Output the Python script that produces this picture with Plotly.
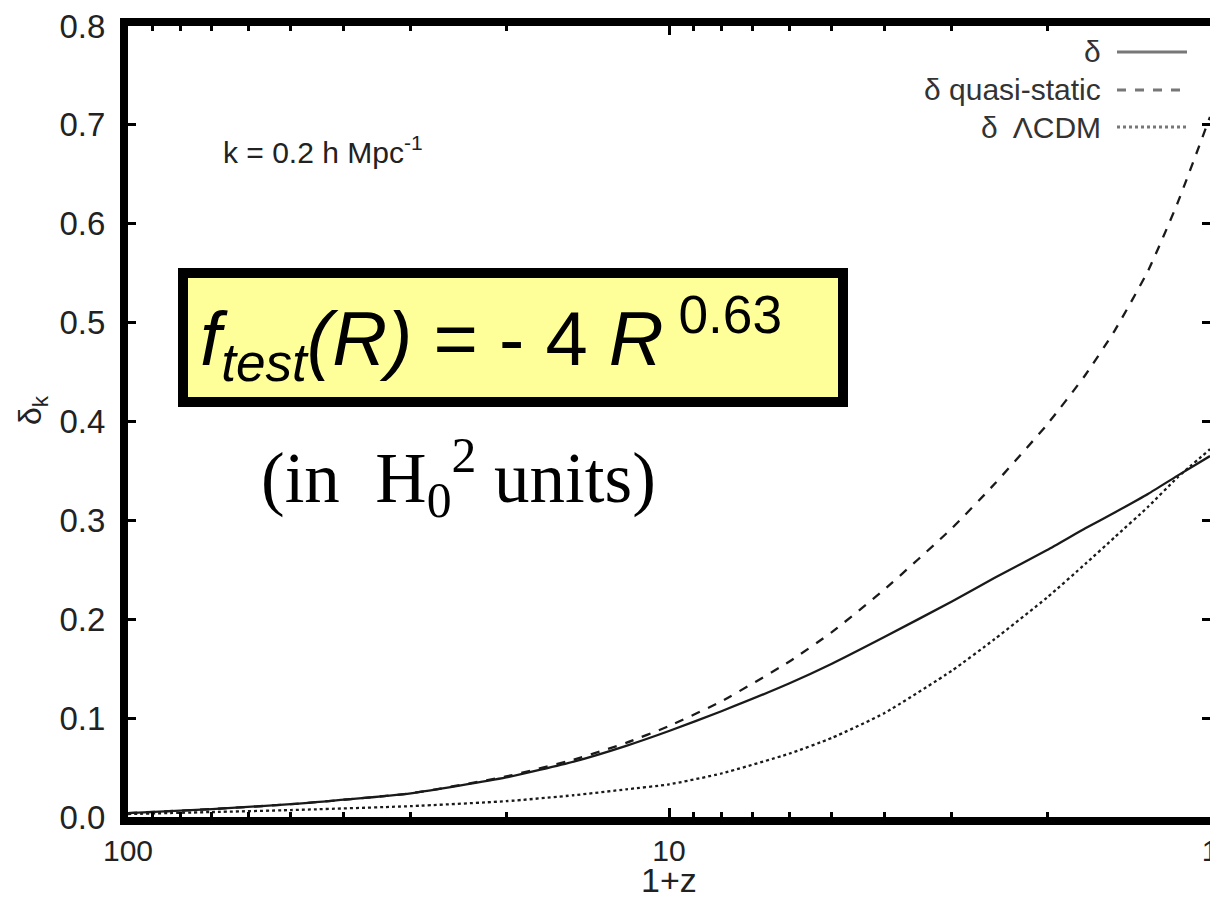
import plotly.graph_objects as go

# ---------------- data ----------------
one_plus_z = [100, 70, 50, 30, 20, 15, 12, 10, 8, 6, 5, 4, 3, 2.5, 2, 1.7, 1.5, 1.3, 1.15, 1]
delta_full = [0.004, 0.008, 0.013, 0.024, 0.040, 0.056, 0.072, 0.087, 0.107, 0.135, 0.155,
              0.182, 0.218, 0.242, 0.270, 0.292, 0.308, 0.327, 0.345, 0.365]
delta_qs = [0.004, 0.008, 0.013, 0.024, 0.041, 0.058, 0.075, 0.092, 0.117, 0.157, 0.187,
            0.230, 0.292, 0.337, 0.397, 0.447, 0.492, 0.553, 0.620, 0.708]
delta_lcdm = [0.003, 0.005, 0.007, 0.011, 0.016, 0.022, 0.028, 0.033, 0.044, 0.064, 0.080,
              0.105, 0.148, 0.180, 0.222, 0.256, 0.283, 0.314, 0.343, 0.372]

series_names = ["δ", "δ quasi-static", "δ  ΛCDM"]
series_dash = ["solid", "dash", "dot"]
x_tick_vals = [100, 10, 1]
y_tick_vals = [0.0, 0.1, 0.2, 0.3, 0.4, 0.5, 0.6, 0.7, 0.8]

# ---------------- layout constants ----------------
OFF = 8                      # default page body margin
W, H = 1218 - OFF, 902 - OFF
ML, MR, MT, MB = 120, 8, 18, 85
PW, PH = W - ML - MR, H - MT - MB


def px(x):                   # screen x -> paper
    return (x - OFF - ML) / PW


def py(y):                   # screen y -> paper
    return (H - MB - (y - OFF)) / PH


FONT = "Liberation Sans, Arial, sans-serif"
LINE_COL = "#1a1a1a"
TXT = "#222"

fig = go.Figure()
for name, vals, dash in zip(series_names, [delta_full, delta_qs, delta_lcdm], series_dash):
    fig.add_trace(go.Scatter(
        x=one_plus_z, y=vals, mode="lines", name=name,
        line=dict(color=LINE_COL, width=2.3, dash=dash, shape="spline", smoothing=0.5),
        showlegend=False,
    ))

shapes = []
annotations = []

# legend (text on the left, line sample on the right)
legend_rows = [52, 90, 127]
for name, dash, yrow in zip(series_names, series_dash, legend_rows):
    annotations.append(dict(
        xref="paper", yref="paper", x=px(1103), y=py(yrow), xanchor="right", yanchor="middle",
        text=name, showarrow=False, font=dict(family=FONT, size=30, color="#333")))
    shapes.append(dict(
        type="line", xref="paper", yref="paper", x0=px(1117), x1=px(1187), y0=py(yrow), y1=py(yrow),
        line=dict(color="#777", width=3, dash=dash)))

# k label
annotations.append(dict(
    xref="paper", yref="paper", x=px(221), y=py(150), xanchor="left", yanchor="middle",
    text="k = 0.2 h Mpc<sup>-1</sup>", showarrow=False,
    font=dict(family=FONT, size=30, color=TXT)))

# yellow box
shapes.append(dict(
    type="rect", xref="paper", yref="paper", x0=px(183), x1=px(843), y0=py(402), y1=py(273),
    fillcolor="#FFFF99", line=dict(color="black", width=10), layer="above"))
annotations.append(dict(
    xref="paper", yref="paper", x=px(198), y=py(338), xanchor="left", yanchor="middle",
    text="<i>f<sub>test</sub>(R)</i> = - 4 <i>R</i><sup> 0.63</sup>", showarrow=False,
    font=dict(family=FONT, size=76, color="black")))

# units note
annotations.append(dict(
    xref="paper", yref="paper", x=px(458), y=py(478), xanchor="center", yanchor="middle",
    text="(in  H<sub>0</sub><sup>2</sup> units)", showarrow=False,
    font=dict(family="Liberation Serif, Times New Roman, serif", size=71, color="black")))

# axis titles
annotations.append(dict(
    xref="paper", yref="paper", x=px(669), y=py(880), xanchor="center", yanchor="middle",
    text="1+z", showarrow=False, font=dict(family=FONT, size=34, color=TXT)))
annotations.append(dict(
    xref="paper", yref="paper", x=px(32), y=py(410), xanchor="center", yanchor="middle",
    text="δ<sub>k</sub>", textangle=-90, showarrow=False, font=dict(family=FONT, size=32, color=TXT)))

fig.update_layout(
    width=W, height=H,
    margin=dict(l=ML, r=MR, t=MT, b=MB, pad=0, autoexpand=False),
    paper_bgcolor="white", plot_bgcolor="white",
    font=dict(family=FONT, color=TXT),
    shapes=shapes, annotations=annotations,
    showlegend=False,
)

fig.update_xaxes(
    type="log", range=[2, 0], autorange=False, automargin=False,
    tickmode="array", tickvals=x_tick_vals, ticktext=[str(v) for v in x_tick_vals],
    ticks="inside", ticklen=9, tickwidth=3, tickcolor="black",
    minor=dict(ticks="inside", ticklen=5, tickwidth=3, tickcolor="black", dtick="D1", showgrid=False),
    showline=True, linewidth=8, linecolor="black", mirror="ticks",
    showgrid=False, zeroline=False, ticklabelstandoff=0, ticklabeloverflow="allow",
    tickfont=dict(family=FONT, size=30, color=TXT),
)
fig.update_yaxes(
    range=[0, 0.8], autorange=False, automargin=False,
    tickmode="array", tickvals=y_tick_vals, ticktext=[f"{v:.1f}" for v in y_tick_vals],
    ticks="inside", ticklen=8, tickwidth=3, tickcolor="black",
    showline=True, linewidth=8, linecolor="black", mirror="ticks",
    showgrid=False, zeroline=False, ticklabelstandoff=8, ticklabeloverflow="allow",
    tickfont=dict(family=FONT, size=33, color=TXT),
)

fig.write_html("out.html")
